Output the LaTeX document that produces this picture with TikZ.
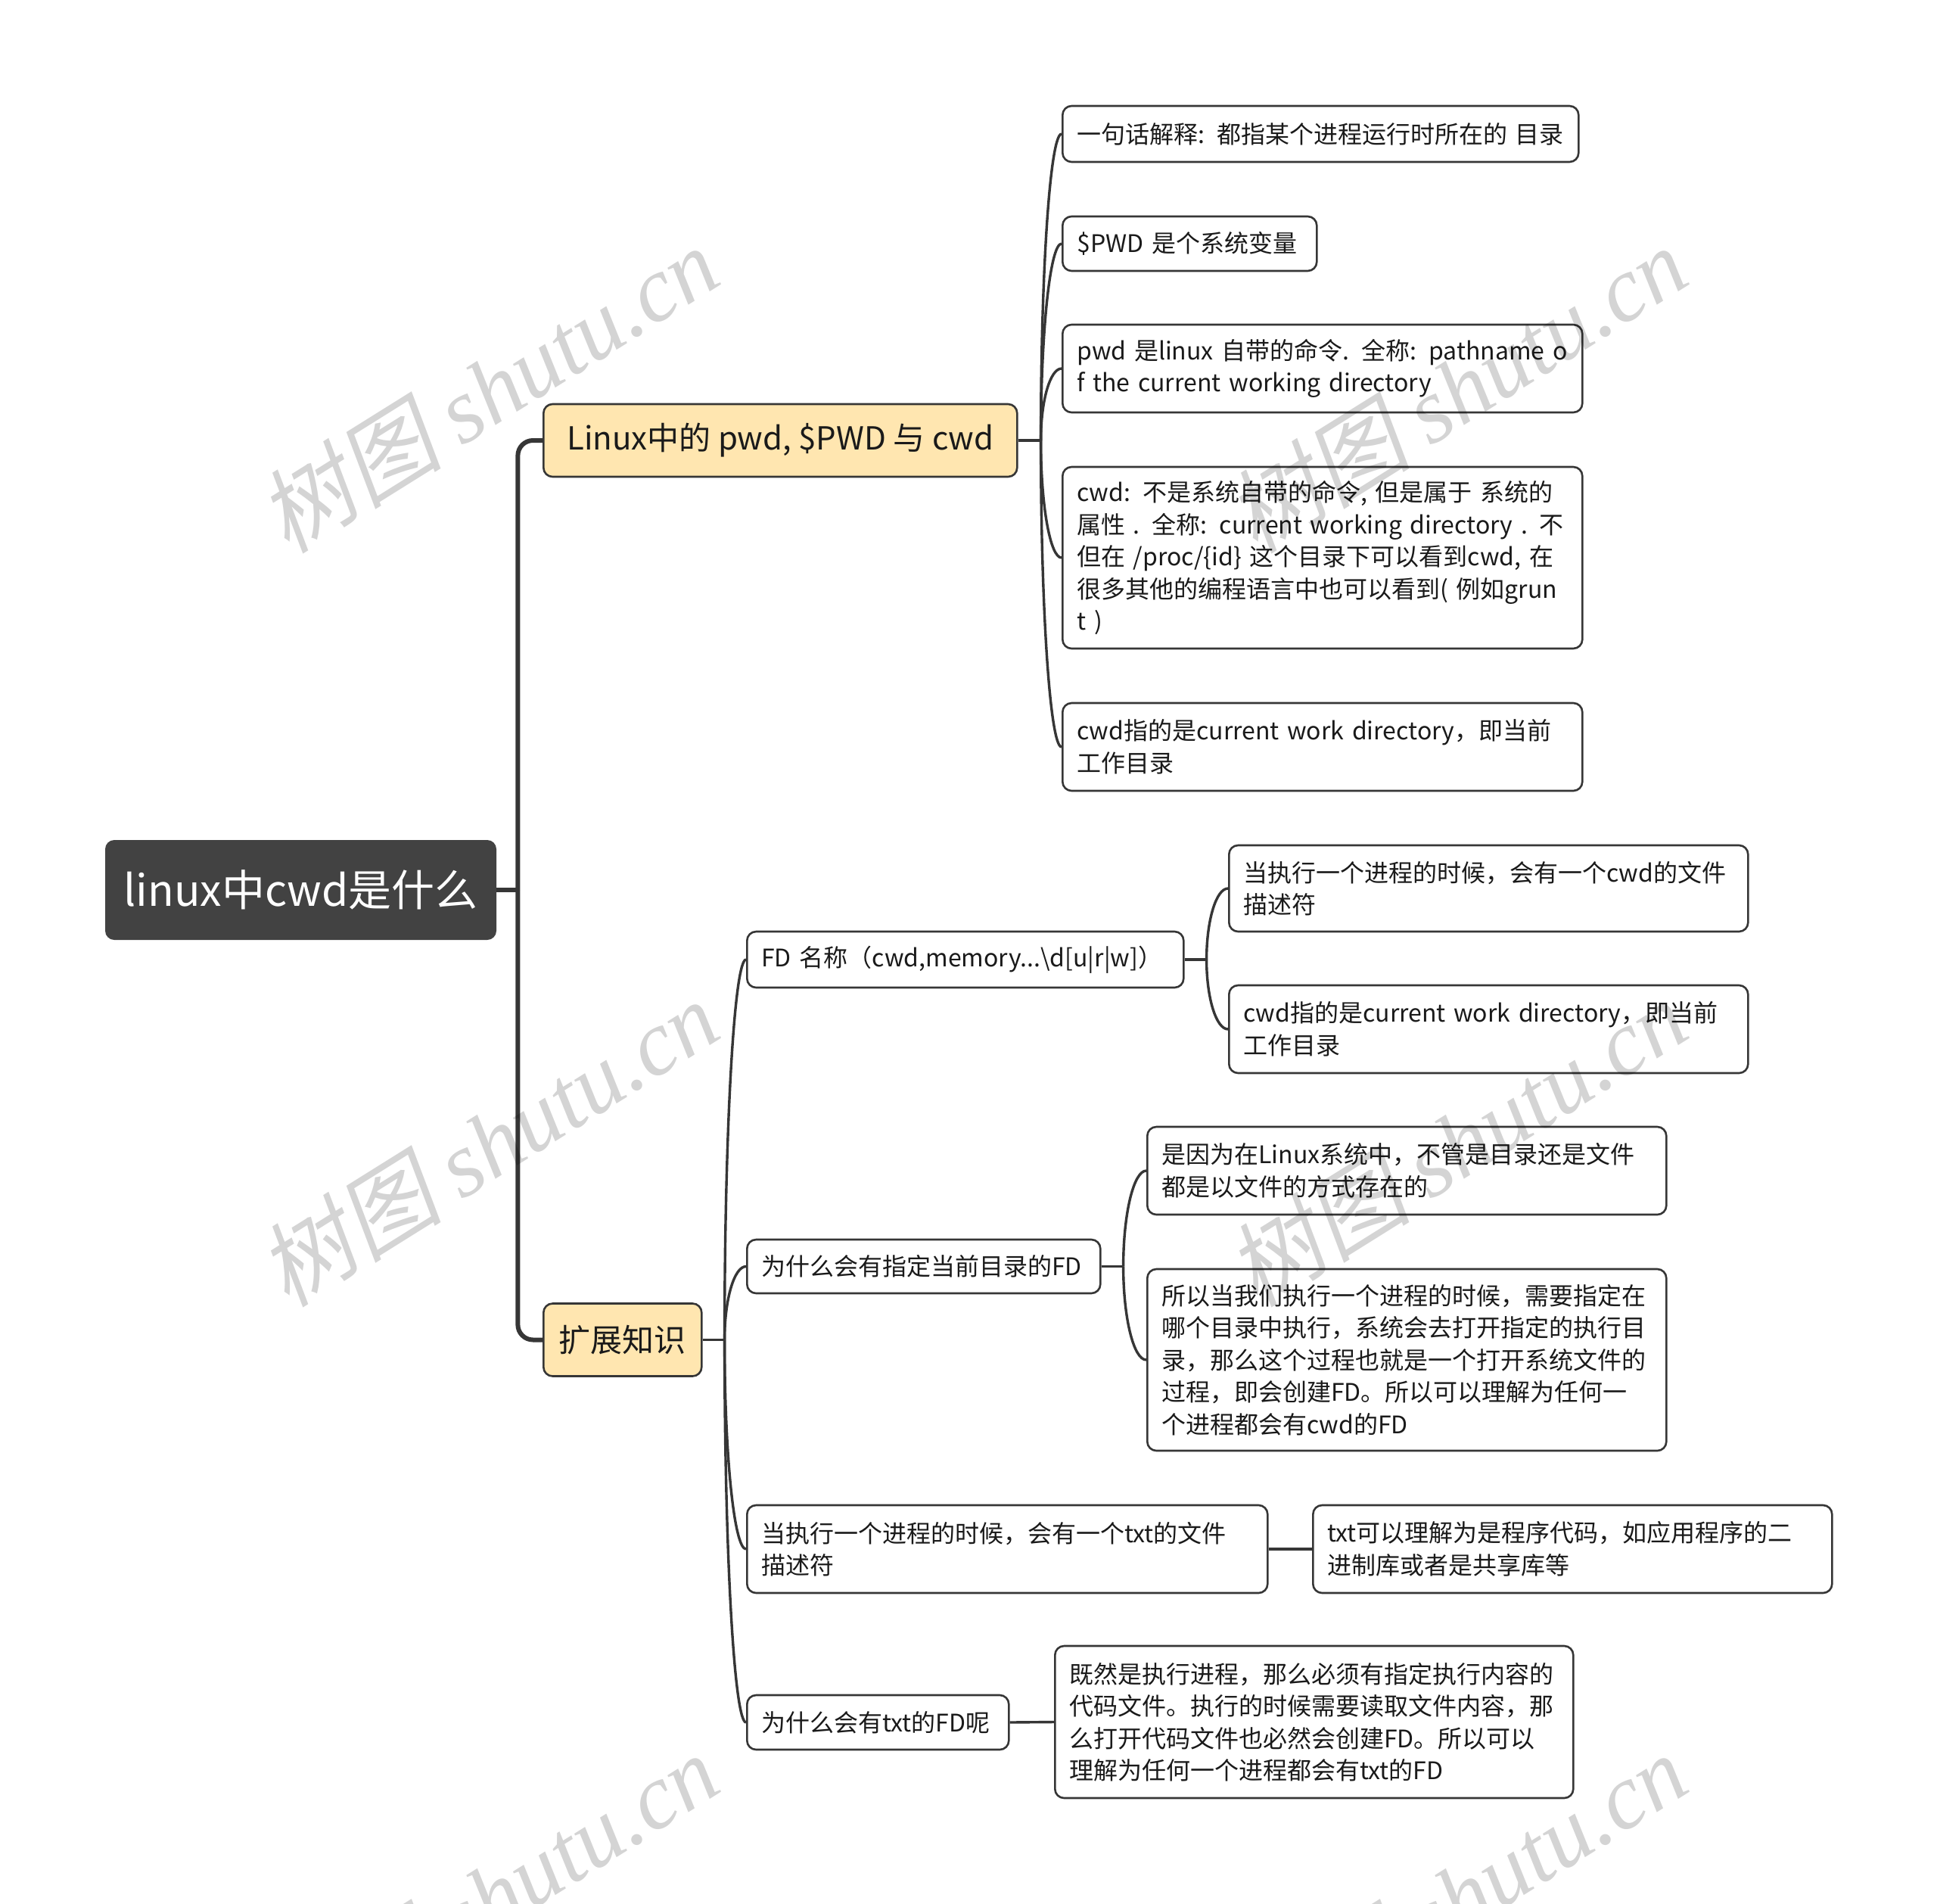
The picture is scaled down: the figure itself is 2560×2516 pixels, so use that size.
\documentclass[tikz,border=0pt]{standalone}
\usepackage{fontspec}
\setmainfont{Noto Sans CJK SC}
\newfontfamily\wmcjk[FakeSlant=0.2]{Noto Sans CJK SC}
\newfontfamily\wmlatin{Liberation Serif}
\usetikzlibrary{calc}
\definecolor{linec}{HTML}{363636}
\definecolor{rootc}{HTML}{424242}
\definecolor{yellowc}{HTML}{FFE6B0}
\definecolor{txtc}{HTML}{1A1A1A}
\newcommand\brch[2]{%
  \draw[conn] let \p1=(#1), \p2=(#2.west) in
    (\p1) .. controls (\x1,{\y1+0.552*(\y2-\y1)}) and ({\x2-0.552*(\x2-\x1)},\y2) .. (\p2);}
\begin{document}
\begin{tikzpicture}[x=0.5pt,y=-0.5pt,
  box/.style={draw=linec, line width=1.3pt, rounded corners=6pt, fill=white,
    inner xsep=9.5pt, inner ysep=0pt, anchor=west, align=left, text=txtc,
    font=\fontsize{16}{21.25}\selectfont},
  lvl/.style={draw=linec, line width=1.3pt, rounded corners=6pt, fill=yellowc,
    inner sep=0pt, anchor=west, text=txtc, minimum height=48pt,
    font=\fontsize{21}{26}\selectfont},
  rootbox/.style={fill=rootc, rounded corners=6pt, inner sep=0pt, text=white,
    minimum width=258.5pt, minimum height=66pt, font=\fontsize{28.5}{34}\selectfont},
  trunk/.style={draw=linec, line width=3pt, rounded corners=10pt},
  conn/.style={draw=linec, line width=1.7pt},
  wm/.style={text=black, text opacity=0.17, rotate=32, inner sep=0pt,
    font=\fontsize{61}{63}\selectfont}]
\useasboundingbox (0,0) rectangle (2560,2516);
\fill[white] (0,0) rectangle (2560,2516);

% root and level 1
\node[rootbox] (root) at (397.5,1176) {linux中cwd是什么};
\node[lvl, minimum width=313pt] (L1) at (717,582) {Linux中的 pwd, \$PWD 与 cwd};
\node[lvl, minimum width=104.5pt] (L2) at (717,1770.5) {扩展知识};

% children of L1
\node[box, text width=322pt, minimum height=37pt] (n1) at (1403,177) {一句话解释: 都指某个进程运行时所在的 目录};
\node[box, text width=149pt, minimum height=36pt] (n2) at (1403,322) {\$PWD 是个系统变量};
\node[box, text width=324.5pt, minimum height=58pt] (n3) at (1403,487) {pwd 是linux 自带的命令. 全称: pathname o\\f the current working directory};
\node[box, text width=324.5pt, minimum height=120pt] (n4) at (1403,737) {cwd: 不是系统自带的命令, 但是属于 系统的\\属性 . 全称: current working directory . 不\\但在 /proc/\{id\} 这个目录下可以看到cwd, 在\\很多其他的编程语言中也可以看到( 例如grun\\t )};
\node[box, text width=324.5pt, minimum height=58pt] (n5) at (1403,987) {cwd指的是current work directory，即当前\\工作目录};

% children of L2
\node[box, text width=269.5pt, minimum height=37pt] (a) at (986,1268) {FD 名称（cwd,memory...\textbackslash d[u|r|w]）};
\node[box, text width=214.5pt, minimum height=35.5pt] (b) at (986,1673.5) {为什么会有指定当前目录的FD};
\node[box, text width=325pt, minimum height=58pt] (c) at (986,2047) {当执行一个进程的时候，会有一个txt的文件\\描述符};
\node[box, text width=154pt, minimum height=36pt] (d) at (986,2276) {为什么会有txt的FD呢};

% level 3
\node[box, text width=324pt, minimum height=57pt] (a1) at (1623,1174) {当执行一个进程的时候，会有一个cwd的文件\\描述符};
\node[box, text width=324pt, minimum height=58pt] (a2) at (1623,1360) {cwd指的是current work directory，即当前\\工作目录};
\node[box, text width=324pt, minimum height=58pt] (b1) at (1515,1547) {是因为在Linux系统中，不管是目录还是文件\\都是以文件的方式存在的};
\node[box, text width=324pt, minimum height=120pt] (b2) at (1515,1797) {所以当我们执行一个进程的时候，需要指定在\\哪个目录中执行，系统会去打开指定的执行目\\录，那么这个过程也就是一个打开系统文件的\\过程，即会创建FD。所以可以理解为任何一\\个进程都会有cwd的FD};
\node[box, text width=324pt, minimum height=58pt] (c1) at (1734,2047) {txt可以理解为是程序代码，如应用程序的二\\进制库或者是共享库等};
\node[box, text width=323.5pt, minimum height=100.5pt] (d1) at (1393,2275.5) {既然是执行进程，那么必须有指定执行内容的\\代码文件。执行的时候需要读取文件内容，那\\么打开代码文件也必然会创建FD。所以可以\\理解为任何一个进程都会有txt的FD};

% junctions
\coordinate (j0) at ($(root.east)+(28,0)$);
\coordinate (j1) at ($(L1.east)+(30,0)$);
\coordinate (j2) at ($(L2.east)+(29,0)$);
\coordinate (j3) at ($(a.east)+(29,0)$);
\coordinate (j4) at ($(b.east)+(29,0)$);

% trunk
\draw[trunk] (root.east) -- (j0);
\draw[trunk] (j0) |- (L1.west);
\draw[trunk] (j0) |- (L2.west);

% L1 branches
\draw[conn] (L1.east) -- (j1);
\brch{j1}{n1}\brch{j1}{n2}\brch{j1}{n3}\brch{j1}{n4}\brch{j1}{n5}

% L2 branches
\draw[conn] (L2.east) -- (j2);
\brch{j2}{a}\brch{j2}{b}\brch{j2}{c}\brch{j2}{d}

\draw[conn] (a.east) -- (j3);
\brch{j3}{a1}\brch{j3}{a2}
\draw[conn] (b.east) -- (j4);
\brch{j4}{b1}\brch{j4}{b2}
\draw[conn] (c.east) -- (c1.west);
\draw[conn] (d.east) -- (d1.west);

% watermarks
\node[wm] (w1) at (645,514) {{\wmcjk 树图} {\wmlatin\itshape shutu.cn}};
\node[wm] (w2) at (1925,514) {{\wmcjk 树图} {\wmlatin\itshape shutu.cn}};
\node[wm] (w3) at (645,1510) {{\wmcjk 树图} {\wmlatin\itshape shutu.cn}};
\node[wm] (w4) at (1925,1510) {{\wmcjk 树图} {\wmlatin\itshape shutu.cn}};
\node[wm] (w5) at (645,2506) {{\wmcjk 树图} {\wmlatin\itshape shutu.cn}};
\node[wm] (w6) at (1925,2506) {{\wmcjk 树图} {\wmlatin\itshape shutu.cn}};
\end{tikzpicture}
\end{document}
